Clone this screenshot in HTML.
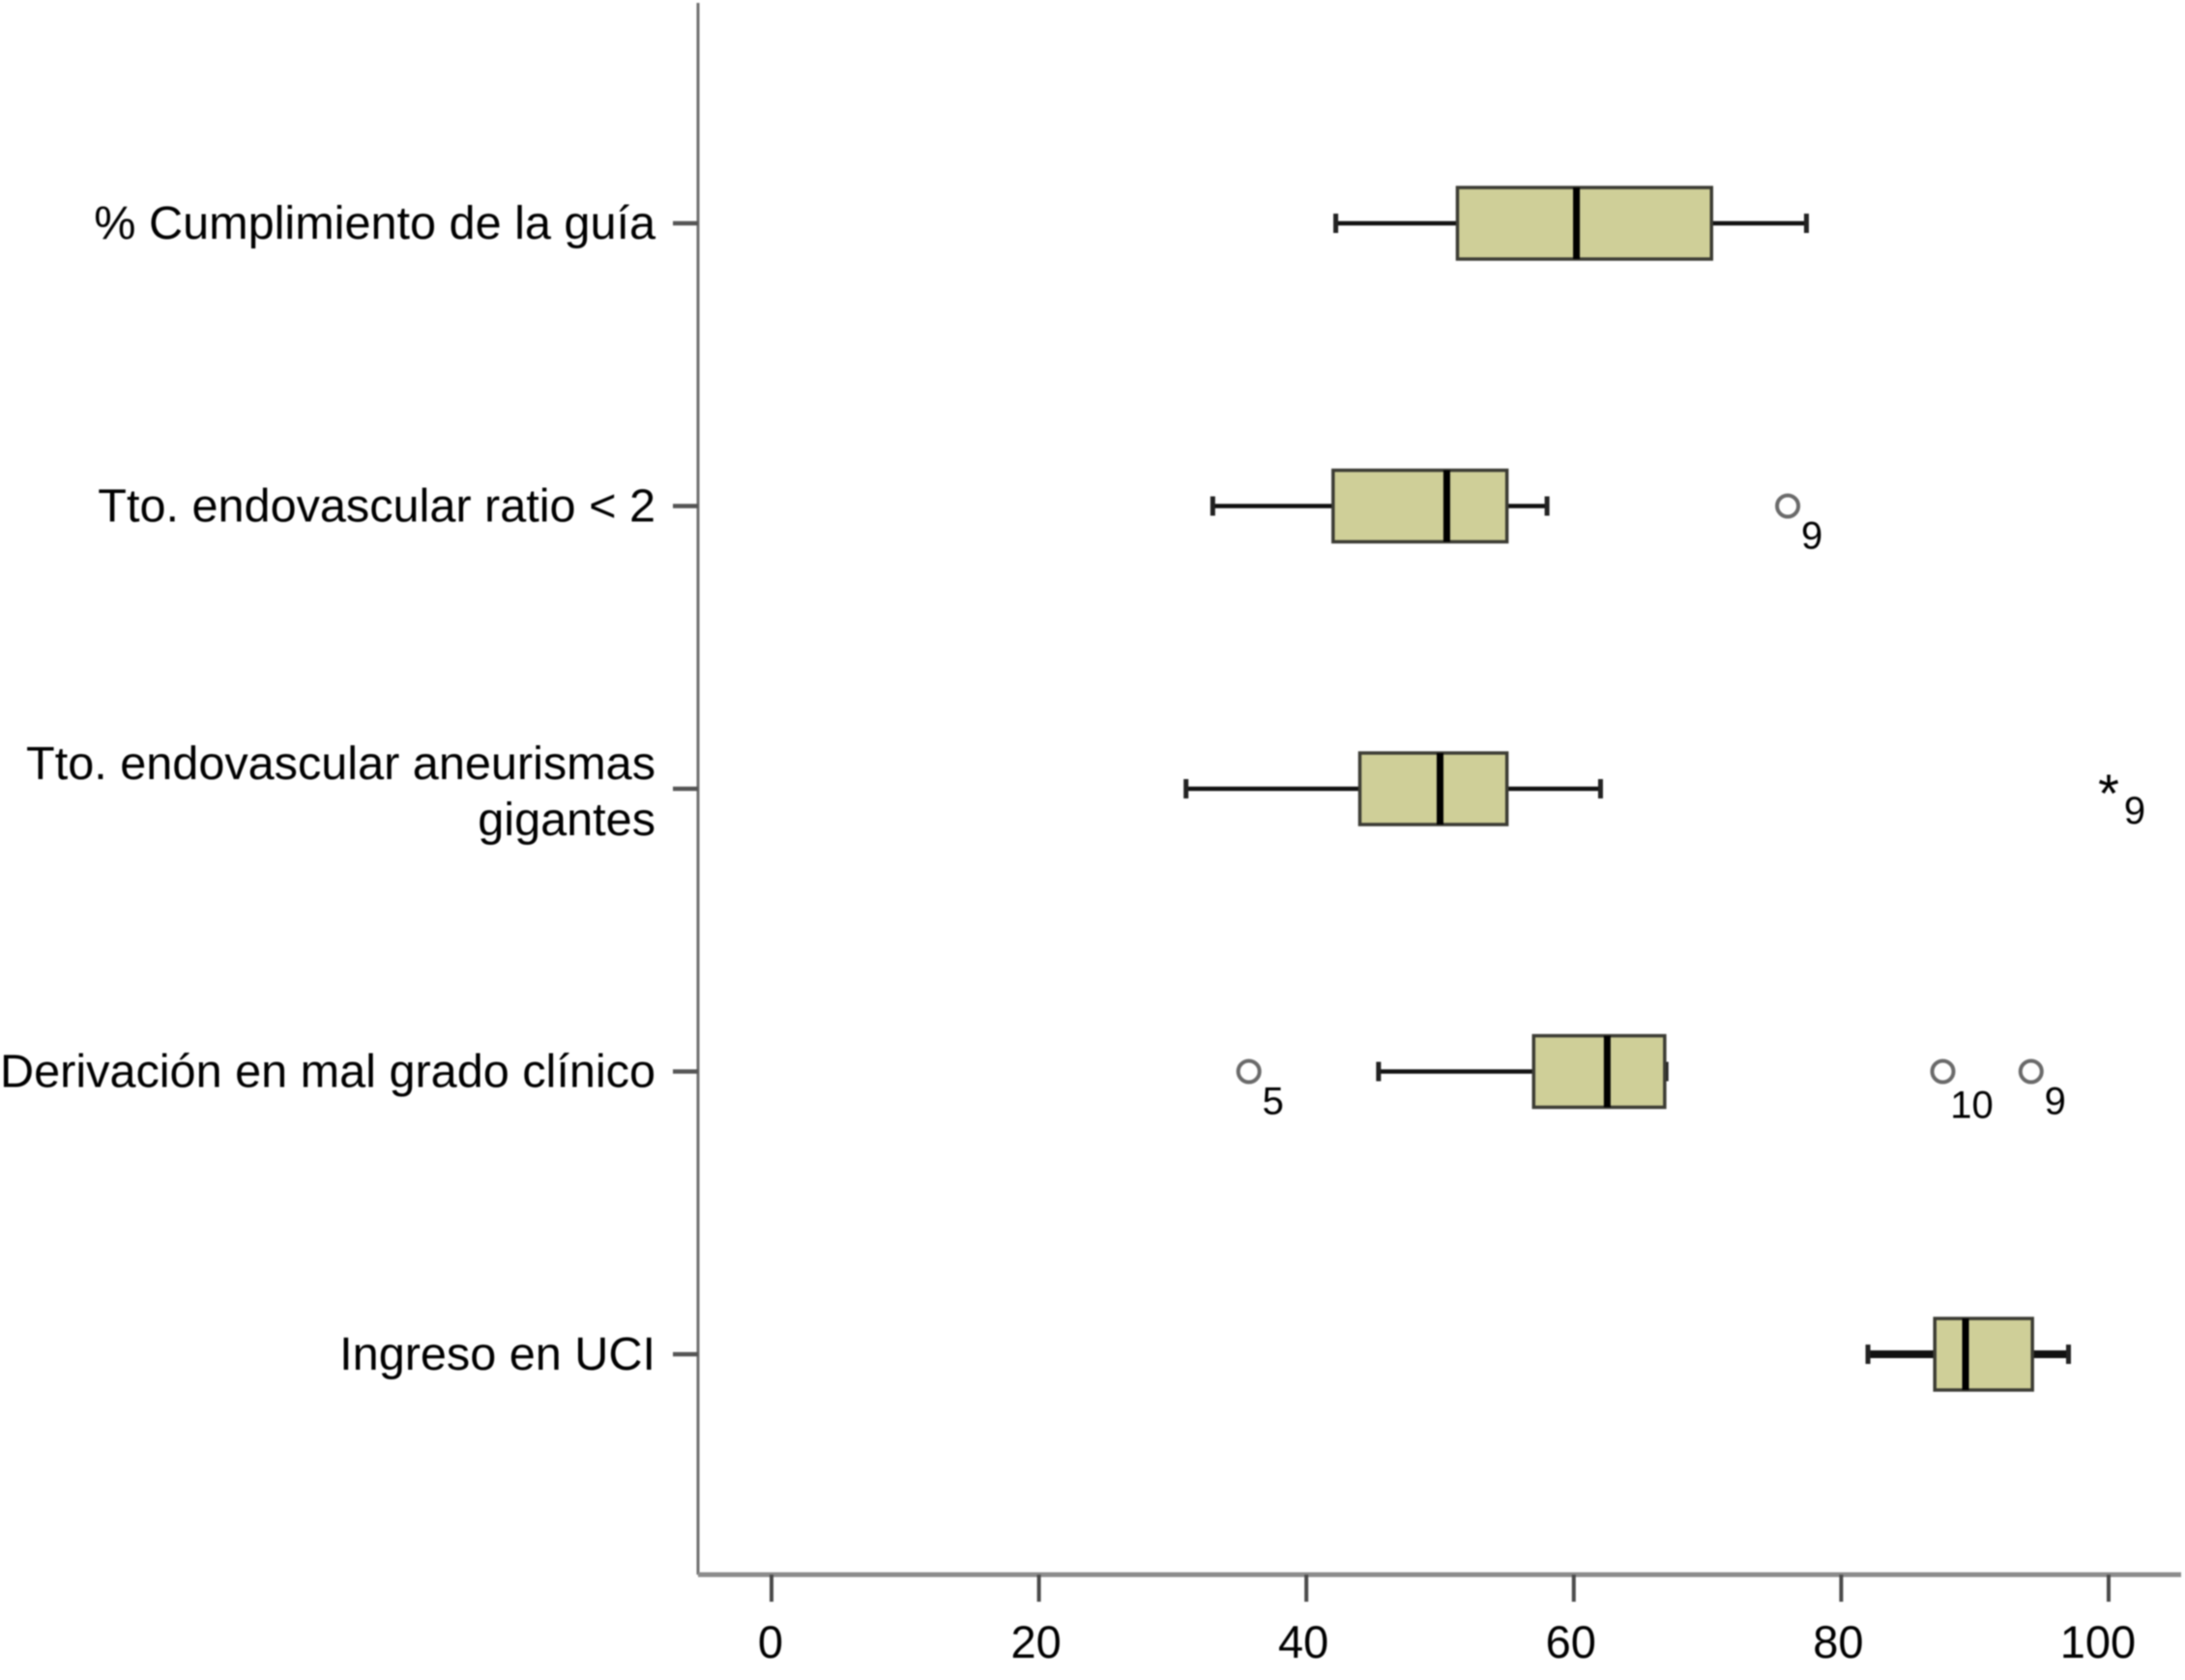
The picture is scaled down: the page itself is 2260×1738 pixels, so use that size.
<!DOCTYPE html>
<html lang="es">
<head>
<meta charset="utf-8">
<title>Box plot</title>
<style>
html,body{margin:0;padding:0;background:#fff;}
svg{display:block;filter:blur(0.7px);}
text{font-family:"Liberation Sans",sans-serif;fill:#000;}
</style>
</head>
<body>
<svg id="chart" xmlns="http://www.w3.org/2000/svg" width="2260" height="1738" viewBox="0 0 2260 1738"></svg>
<script>
const categories = [
  ["% Cumplimiento de la guía"],
  ["Tto. endovascular ratio < 2"],
  ["Tto. endovascular aneurismas", "gigantes"],
  ["Derivación en mal grado clínico"],
  ["Ingreso en UCI"]
];
const whiskerLow  = [42.2, 33.0, 31.0, 45.4, 82.0];
const q1          = [51.3, 42.0, 44.0, 57.0, 87.0];
const median      = [60.2, 50.5, 50.0, 62.5, 89.3];
const q3          = [70.3, 55.0, 55.0, 66.8, 94.3];
const whiskerHigh = [77.4, 58.0, 62.0, 66.9, 97.0];
const outlierValues = [[], [76.0], [], [35.7, 87.6, 94.2], []];
const outlierLabels = [[], ["9"], [], ["5", "10", "9"], []];
const extremeValues = [[], [], [100.0], [], []];
const extremeLabels = [[], [], ["9"], [], []];
const xTickValues = [0, 20, 40, 60, 80, 100];

const NS = "http://www.w3.org/2000/svg";
const svg = document.getElementById("chart");
function xScale(v) { return 798 + 13.83 * v; }
function yScale(i) { return 231 + 292.5 * i; }
function mk(tag, attrs, parent) {
  const el = document.createElementNS(NS, tag);
  for (const k in attrs) el.setAttribute(k, attrs[k]);
  (parent || svg).appendChild(el);
  return el;
}
const AXIS_X = 722, AXIS_Y = 1629, AXIS_RIGHT = 2256, BOX_HALF = 37, CAP_HALF = 10;

const yAxis = mk("line", {x1: AXIS_X, y1: 3, x2: AXIS_X, y2: AXIS_Y, stroke: "#6e6e6e", "stroke-width": 3});


const xAxis = mk("line", {x1: AXIS_X, y1: AXIS_Y, x2: AXIS_RIGHT, y2: AXIS_Y, stroke: "#8c8c8c", "stroke-width": 5});



xTickValues.forEach(function (v) {
  const x = xScale(v);
  const tick = mk("line", {x1: x, y1: AXIS_Y, x2: x, y2: 1657, stroke: "#4a4a4a", "stroke-width": 4});
  
  
  const text = String(v);
  const shift = text.length === 1 ? -1 : (text.length === 2 ? -3 : -11);
  const label = mk("text", {x: x + shift, y: 1715, "text-anchor": "middle", "font-size": 47});
  label.textContent = text;
  
  
});

categories.forEach(function (lines, i) {
  const y = yScale(i);
  const tick = mk("line", {x1: 696, y1: y, x2: AXIS_X, y2: y, stroke: "#555", "stroke-width": 4.5});
  
  
  const startY = lines.length > 1 ? y - 10 : y + 16;
  lines.forEach(function (line, j) {
    const label = mk("text", {x: 678, y: startY + j * 58, "text-anchor": "end", "font-size": 48.6});
    label.textContent = line;
    
    
  });

  const group = mk("g", {});
  
  
  const whiskerWidth = (xScale(q3[i]) - xScale(q1[i]) < 120) ? 8 : 4.5;
  const low = mk("line", {x1: xScale(whiskerLow[i]), y1: y, x2: xScale(q1[i]), y2: y, stroke: "#111", "stroke-width": whiskerWidth}, group);
  
  
  const high = mk("line", {x1: xScale(q3[i]), y1: y, x2: xScale(whiskerHigh[i]), y2: y, stroke: "#111", "stroke-width": whiskerWidth}, group);
  
  
  const capLow = mk("line", {x1: xScale(whiskerLow[i]), y1: y - CAP_HALF, x2: xScale(whiskerLow[i]), y2: y + CAP_HALF, stroke: "#222", "stroke-width": 5}, group);
  
  
  const capHigh = mk("line", {x1: xScale(whiskerHigh[i]), y1: y - CAP_HALF, x2: xScale(whiskerHigh[i]), y2: y + CAP_HALF, stroke: "#222", "stroke-width": 5}, group);
  
  
  const box = mk("rect", {x: xScale(q1[i]), y: y - BOX_HALF, width: xScale(q3[i]) - xScale(q1[i]), height: 2 * BOX_HALF, fill: "#cfcf98", stroke: "#3c3c34", "stroke-width": 3.5}, group);
  
  
  const med = mk("line", {x1: xScale(median[i]), y1: y - BOX_HALF, x2: xScale(median[i]), y2: y + BOX_HALF, stroke: "#000", "stroke-width": 7}, group);
  
  

  outlierValues[i].forEach(function (v, j) {
    const cx = xScale(v);
    const dot = mk("circle", {cx: cx, cy: y, r: 11, fill: "#fff", stroke: "#6a6a6a", "stroke-width": 4}, group);
    
    
    const txt = outlierLabels[i][j];
    const lab = mk("text", {x: cx + (txt.length > 1 ? 30 : 25), y: y + (txt.length > 1 ? 48 : 44), "text-anchor": "middle", "font-size": 40}, group);
    lab.textContent = txt;
    
    
  });

  extremeValues[i].forEach(function (v, j) {
    const cx = xScale(v);
    const star = mk("text", {x: cx, y: y + 24, "text-anchor": "middle", "font-size": 56, fill: "#333"}, group);
    star.textContent = "*";
    
    
    const lab = mk("text", {x: cx + 27, y: y + 36, "text-anchor": "middle", "font-size": 40}, group);
    lab.textContent = extremeLabels[i][j];
    
    
  });
});
</script>
</body>
</html>
